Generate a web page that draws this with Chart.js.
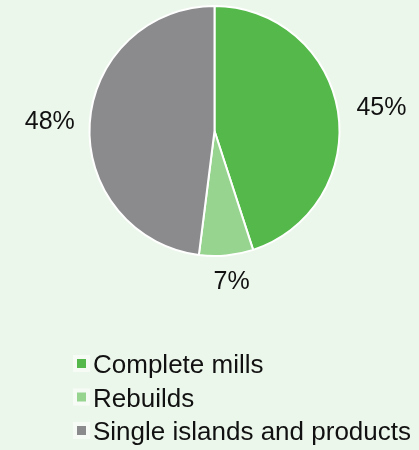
<!DOCTYPE html>
<html lang="en">
    <head>
        <meta charset="UTF-8">
        <title>Order intake by type</title>
        <style>
            body {
                margin: 0;
                background-color: #ecf7eb;
            }
            #chart-container {
                position: absolute;
                top: 0;
                left: 0;
                width: 419px;
                height: 450px;
            }
        </style>
    </head>
    <body>
        <div id="chart-container">
            <canvas id="myChart" width="419" height="450"></canvas>
        </div>
        <script src="https://cdn.jsdelivr.net/npm/chart.js"></script>
        <script>
            // data
            let categories = ['Complete mills', 'Rebuilds', 'Single islands and products'];
            let shares = [45, 7, 48];                                  // percent
            let sliceColors = ['#54b94a', '#96d48f', '#8b8b8e'];

            let fontFamily = '"Liberation Sans", Arial, Helvetica, sans-serif';
            let textColor = '#111111';

            // percent labels outside each slice
            const outsideLabels = {
                id: 'outsideLabels',
                afterDatasetsDraw(chart) {
                    const ctx = chart.ctx;
                    const meta = chart.getDatasetMeta(0);
                    ctx.save();
                    ctx.font = '25px ' + fontFamily;
                    ctx.fillStyle = textColor;
                    ctx.textAlign = 'center';
                    ctx.textBaseline = 'middle';
                    meta.data.forEach((arc, i) => {
                        const p = arc.getProps(['x', 'y', 'startAngle', 'endAngle', 'outerRadius'], true);
                        const mid = (p.startAngle + p.endAngle) / 2;
                        const txt = shares[i] + '%';
                        const w = ctx.measureText(txt).width;
                        const h = 18;
                        const r = p.outerRadius + 17;
                        const cx = p.x + Math.cos(mid) * (r + w / 2) + 2;
                        const cy = p.y + Math.sin(mid) * (r + h / 2) + 1;
                        ctx.fillText(txt, cx, cy);
                    });
                    ctx.restore();
                }
            };

            // vertical legend below the pie
            const listLegend = {
                id: 'listLegend',
                afterDraw(chart) {
                    const ctx = chart.ctx;
                    const x0 = 77;
                    const y0 = 373;
                    const lineH = 33.5;
                    ctx.save();
                    ctx.font = '26px ' + fontFamily;
                    ctx.textBaseline = 'alphabetic';
                    categories.forEach((name, i) => {
                        const base = y0 + i * lineH;
                        ctx.fillStyle = 'rgba(255,255,255,0.55)';
                        ctx.fillRect(x0 - 4, base - 18, 17, 17);
                        ctx.fillStyle = sliceColors[i];
                        ctx.fillRect(x0, base - 14, 9, 9);
                        ctx.fillStyle = textColor;
                        ctx.fillText(name, x0 + 16, base);
                    });
                    ctx.restore();
                }
            };

            const data = {
                labels: categories,
                datasets: [{
                    data: shares,
                    backgroundColor: sliceColors,
                    borderColor: '#ffffff',
                    borderWidth: 2
                }]
            };

            const config = {
                type: 'pie',
                data,
                options: {
                    responsive: false,
                    animation: false,
                    layout: {
                        padding: { left: 10, top: 5, right: 0, bottom: 193 }
                    },
                    plugins: {
                        legend: { display: false },
                        tooltip: { enabled: false }
                    }
                },
                plugins: [outsideLabels, listLegend]
            };

            const myChart = new Chart(document.getElementById('myChart'), config);
        </script>
    </body>
</html>
